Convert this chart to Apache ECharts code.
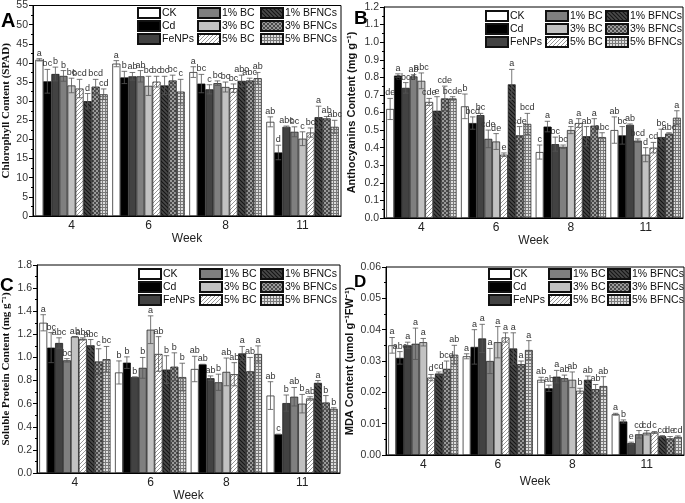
<!DOCTYPE html>
<html><head><meta charset="utf-8">
<script src="https://cdn.jsdelivr.net/npm/echarts@6/dist/echarts.min.js"></script>
<style>html,body{margin:0;padding:0;background:#fff}#c{width:685px;height:503px}</style>
</head><body><div id="c"></div>
<script>
const treatments = ['CK','Cd','FeNPs','1% BC','3% BC','5% BC','1% BFNCs','3% BFNCs','5% BFNCs'];
const weeks = ['4','6','8','11'];

// Panel A: Chlorophyll (SPAD) — rows = treatments, cols = weeks
const chlMean = [
  [40.8,39.8,37.6,24.6],[35.2,36.2,34.6,16.6],[37.1,36.5,33.1,23.3],
  [36.6,36.5,34.7,22.0],[34.1,34.0,33.7,20.2],[33.3,35.1,33.4,21.8],
  [30.0,34.1,35.3,25.8],[33.8,35.4,35.4,25.5],[31.8,32.5,36.0,23.3]];
const chlSD = [
  [0.3,0.8,1.4,1.3],[3.1,1.6,2.4,1.9],[1.8,1.0,1.2,0.2],
  [1.4,1.5,0.6,1.3],[1.9,2.5,1.3,1.8],[2.4,1.4,1.1,1.2],
  [2.0,2.4,1.5,2.9],[1.9,1.4,0.6,0.5],[1.4,3.2,1.5,1.7]];
const chlLetters = [
  ['a','a','a','ab'],['bc','b','bc','d'],['b','ab','c','abc'],
  ['b','ab','bc','bc'],['bc','bc','bc','c'],['bcd','bc','bc','bc'],
  ['d','bc','abc','a'],['bcd','bc','abc','ab'],['cd','c','ab','abc']];

// Panel B: Anthocyanins
const antMean = [
  [0.62,0.635,0.375,0.50],[0.81,0.54,0.52,0.47],[0.74,0.585,0.42,0.53],
  [0.805,0.45,0.405,0.44],[0.78,0.435,0.50,0.36],[0.66,0.36,0.54,0.40],
  [0.61,0.76,0.465,0.46],[0.68,0.47,0.525,0.48],[0.68,0.535,0.46,0.57]];
const antSD = [
  [0.06,0.07,0.04,0.075],[0.01,0.035,0.03,0.05],[0.03,0.01,0.04,0.005],
  [0.01,0.05,0.01,0.01],[0.045,0.045,0.02,0.04],[0.02,0.01,0.025,0.03],
  [0.08,0.085,0.055,0.045],[0.07,0.05,0.04,0.005],[0.01,0.06,0.025,0.04]];
const antLetters = [
  ['de','b','c','ab'],['a','bcd','a','bc'],['abcd','bc','bc','ab'],
  ['ab','cde','bc','bcd'],['abc','de','a','d'],['cde','e','a','cd'],
  ['e','a','ab','bc'],['cde','cde','a','abc'],['bcde','bcd','abc','a']];

// Panel C: Soluble protein
const protMean = [
  [1.30,0.87,0.90,0.67],[1.085,0.955,0.94,0.335],[1.125,0.83,0.82,0.605],
  [0.975,0.91,0.785,0.66],[1.18,1.24,0.875,0.60],[1.16,1.03,0.855,0.645],
  [1.105,0.895,1.035,0.78],[0.965,0.92,0.88,0.61],[0.985,0.83,1.03,0.555]];
const protSD = [
  [0.07,0.10,0.11,0.12],[0.13,0.05,0.0,0.0],[0.045,0.0,0.02,0.07],
  [0.015,0.09,0.07,0.08],[0.0,0.12,0.12,0.08],[0.01,0.15,0.10,0.015],
  [0.05,0.12,0.06,0.02],[0.11,0.12,0.12,0.06],[0.11,0.12,0.07,0.01]];
const protLetters = [
  ['a','b','ab','ab'],['bc','b','ab','c'],['abc','b','ab','b'],
  ['bc','b','b','ab'],['ab','a','ab','b'],['abc','ab','ab','ab'],
  ['abc','b','a','a'],['c','b','ab','b'],['bc','b','a','b']];

// Panel D: MDA
const mdaMean = [
  [0.035,0.0315,0.024,0.013],[0.031,0.0345,0.0213,0.0107],[0.035,0.0372,0.025,0.0038],
  [0.0355,0.030,0.0245,0.0066],[0.036,0.036,0.024,0.0071],[0.0247,0.0375,0.0205,0.0072],
  [0.026,0.034,0.024,0.006],[0.0275,0.029,0.021,0.0053],[0.032,0.0335,0.022,0.0058]];
const mdaSD = [
  [0.0025,0.0008,0.0008,0.0003],[0.002,0.0055,0.001,0.0005],[0.001,0.0045,0.002,0.0003],
  [0.005,0.004,0.001,0.0012],[0.0012,0.005,0.0025,0.0007],[0.001,0.0015,0.0008,0.0003],
  [0.0005,0.005,0.0012,0.0002],[0.0025,0.001,0.0015,0.0006],[0.003,0.003,0.003,0.0003]];
const mdaLetters = [
  ['a','a','ab','a'],['abc','a','ab','b'],['a','a','a','e'],
  ['a','a','ab','cd'],['a','a','ab','cd'],['d','a','b','c'],
  ['cd','a','ab','cd'],['bcd','a','ab','de'],['ab','a','ab','cd']];

// ---------- fill patterns ----------
function pat(w, h, draw) {
  const c = document.createElement('canvas'); c.width = w; c.height = h;
  const g = c.getContext('2d'); draw(g); return {image: c, repeat: 'repeat'};
}
const fills = [
  '#ffffff', '#000000', '#424242', '#7f7f7f', '#c2c2c2',
  pat(4,4,g=>{g.fillStyle='#fff';g.fillRect(0,0,4,4);g.strokeStyle='#8c8c8c';g.lineWidth=0.9;
    g.beginPath();g.moveTo(0,4);g.lineTo(4,0);g.moveTo(-1,1);g.lineTo(1,-1);g.moveTo(3,5);g.lineTo(5,3);g.stroke();}),
  pat(4,4,g=>{g.fillStyle='#4a4a4a';g.fillRect(0,0,4,4);g.strokeStyle='#151515';g.lineWidth=1.1;
    g.beginPath();g.moveTo(0,0);g.lineTo(4,4);g.moveTo(3,-1);g.lineTo(5,1);g.moveTo(-1,3);g.lineTo(1,5);g.stroke();}),
  pat(4,4,g=>{g.fillStyle='#9a9a9a';g.fillRect(0,0,4,4);g.fillStyle='#4a4a4a';g.fillRect(0,0,2,2);g.fillRect(2,2,2,2);}),
  pat(3,3,g=>{g.fillStyle='#dedede';g.fillRect(0,0,3,3);g.fillStyle='#7a7a7a';g.fillRect(0,0,3,1);g.fillRect(0,0,1,3);})
];

const GAP = 0.06;
const panels = [
  {mean:chlMean, sd:chlSD, letters:chlLetters, grid:{left:33,top:5,width:308,height:211},
   max:55, interval:5, dec:0, name:'Chlorophyll Content (SPAD)', serif:true, nameGap:21, xNameGap:15,
   legLeft:[137,197,260], legTop:7, tag:'A', tagX:1, tagY:11, tagSize:20},
  {mean:antMean, sd:antSD, letters:antLetters, grid:{left:384,top:7,width:299,height:211},
   max:1.2, interval:0.1, dec:1, name:'Anthocyanins Content (mg g\u207B\u00B9)', serif:false, nameGap:27, xNameGap:14,
   legLeft:[485,545,605], legTop:10, tag:'B', tagX:354, tagY:9, tagSize:19},
  {mean:protMean, sd:protSD, letters:protLetters, grid:{left:36,top:265,width:304,height:210},
   max:1.8, interval:0.2, dec:1, name:'Soluble Protein Content (mg g\u207B\u00B9)', serif:true, nameGap:25, xNameGap:17,
   legLeft:[138,199,260], legTop:268, tag:'C', tagX:0, tagY:276, tagSize:19},
  {mean:mdaMean, sd:mdaSD, letters:mdaLetters, grid:{left:386,top:267,width:298,height:188},
   max:0.06, interval:0.01, dec:2, name:'MDA Content (umol g\u207B\u00B9FW\u207B\u00B9)', serif:false, nameGap:31, xNameGap:21,
   legLeft:[488,548,607], legTop:268, tag:'D', tagX:354, tagY:274, tagSize:17}
];

const option = {
  animation: false,
  textStyle: {fontFamily: 'Liberation Sans, Arial, sans-serif'},
  grid: [], xAxis: [], yAxis: [], series: [], legend: [], graphic: []
};

panels.forEach((p, pi) => {
  option.grid.push(Object.assign({show:true, borderColor:'#000', borderWidth:1, containLabel:false}, p.grid));
  option.xAxis.push({
    type:'category', gridIndex:pi, data:weeks,
    axisLine:{lineStyle:{color:'#000', width:1}},
    axisTick:{alignWithLabel:true, length:4, lineStyle:{color:'#000'}},
    axisLabel:{fontSize:12, color:'#222', margin:4},
    name:'Week', nameLocation:'middle', nameGap:p.xNameGap, nameTextStyle:{fontSize:12, color:'#222'}
  });
  option.yAxis.push({
    type:'value', gridIndex:pi, min:0, max:p.max, interval:p.interval,
    axisLine:{show:true, lineStyle:{color:'#000', width:1}},
    axisTick:{show:true, length:4, lineStyle:{color:'#000'}},
    minorTick:{show:true, splitNumber:2, length:2, lineStyle:{color:'#000'}},
    splitLine:{show:false},
    axisLabel:{fontSize:10.5, color:'#333', margin:5, formatter:v => v.toFixed(p.dec)},
    name:p.name, nameLocation:'middle', nameRotate:90, nameGap:p.nameGap,
    nameTextStyle:{fontSize:11, fontWeight:'bold', color:'#111',
      fontFamily: p.serif ? 'Liberation Serif, Times New Roman, serif' : 'Liberation Sans, Arial, sans-serif'}
  });
  treatments.forEach((t, ti) => {
    option.series.push({
      type:'bar', name:t, xAxisIndex:pi, yAxisIndex:pi, data:p.mean[ti],
      barGap:'0%', barCategoryGap:(GAP*100)+'%',
      itemStyle:{color:fills[ti], borderColor:'#111', borderWidth:0.7},
      emphasis:{disabled:true}, z:2
    });
  });
  const ebData = [];
  treatments.forEach((t, ti) => weeks.forEach((w, wi) => {
    const m = p.mean[ti][wi], s = p.sd[ti][wi];
    ebData.push([wi, m + s, m - s]);
  }));
  option.series.push({
    type:'custom', xAxisIndex:pi, yAxisIndex:pi, data:ebData, z:5, silent:true,
    encode:{x:0, y:[1,2]}, clip:false,
    renderItem:(params, api) => {
      const idx = params.dataIndex, ti = Math.floor(idx/4), wi = idx % 4;
      const m = p.mean[ti][wi], s = p.sd[ti][wi];
      const c = api.coord([wi, m]);
      const band = api.size([1, 0])[0];
      const inner = band * (1 - GAP), bw = inner / 9;
      const x = c[0] - inner/2 + (ti + 0.5) * bw;
      const yT = api.coord([wi, m + s])[1], yB = api.coord([wi, m - s])[1];
      const cw = bw * 0.35;
      const ls = {stroke:'#555', lineWidth:0.8};
      return {type:'group', children:[
        {type:'line', shape:{x1:x, y1:yT, x2:x, y2:yB}, style:ls},
        {type:'line', shape:{x1:x-cw, y1:yT, x2:x+cw, y2:yT}, style:ls},
        {type:'line', shape:{x1:x-cw, y1:yB, x2:x+cw, y2:yB}, style:ls},
        {type:'text', style:{text:p.letters[ti][wi], x:x, y:yT-1,
          align:'center', verticalAlign:'bottom', textAlign:'center', textVerticalAlign:'bottom',
          fontSize:9, fontFamily:'Liberation Sans, Arial, sans-serif', fill:'#333'}}
      ]};
    }
  });
  [0,1,2].forEach(col => {
    option.legend.push({
      orient:'vertical', left:p.legLeft[col], top:p.legTop, padding:0,
      data:treatments.slice(col*3, col*3+3), icon:'rect',
      itemWidth:22, itemHeight:10, itemGap:1, selectedMode:false,
      textStyle:{fontSize:10.5, lineHeight:11.5, color:'#111', padding:[0,0,0,-3]}
    });
  });
  option.graphic.push({type:'text', left:p.tagX, top:p.tagY,
    style:{text:p.tag, fontSize:p.tagSize, fontWeight:'bold', fill:'#000', fontFamily:'Liberation Sans, Arial, sans-serif'}});
});

const chart = echarts.init(document.getElementById('c'), null, {renderer:'canvas'});
chart.setOption(option);
</script>
</body></html>
